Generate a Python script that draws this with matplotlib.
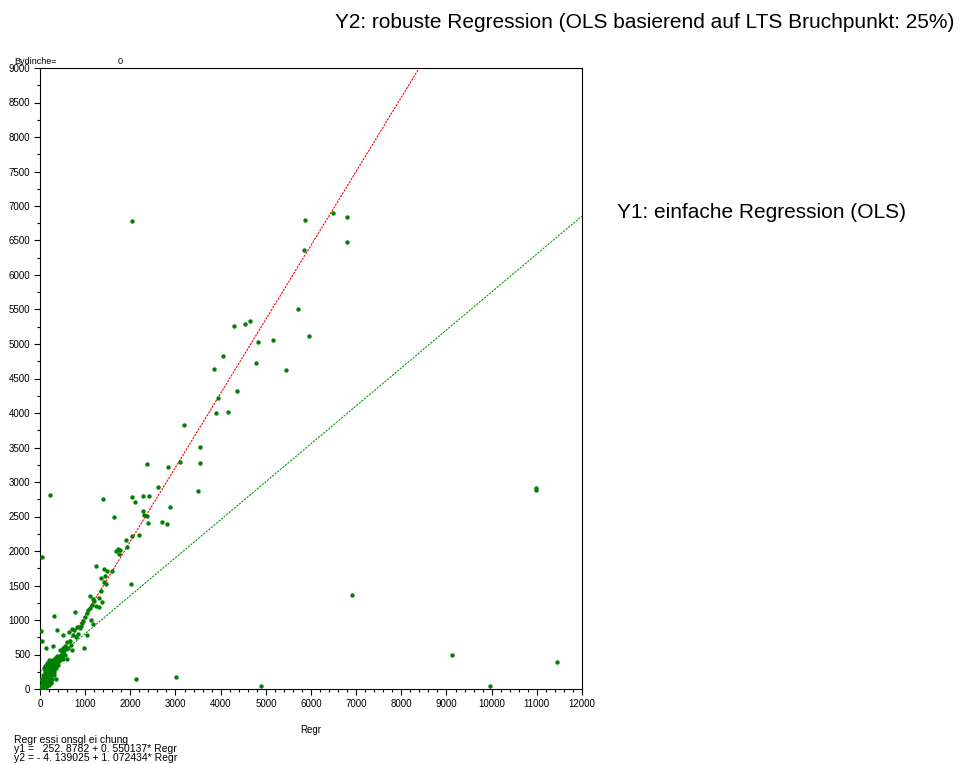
import matplotlib.pyplot as plt
from matplotlib.ticker import MultipleLocator

# ============================================================
# DATEN
# ============================================================

regr_x = [
    2037, 5867, 6487, 6797, 6797, 5845, 5712, 4295, 4538, 4649, 5955, 5158,
    4826, 4051, 3852, 4782, 5446, 4361, 3941, 3896, 4162, 3188, 3542, 2834,
    3099, 3542, 2612, 2369, 3498, 1395, 2037, 2103, 2280, 2413, 2878, 2280,
    2302, 2369, 2391, 2701, 2812, 1638, 1904, 1926, 2192, 2037, 1683, 1727,
    1771, 1749, 1417, 1483, 1594, 1439, 1350, 1240, 1417, 1461, 2015, 1350,
    1107, 1173, 1373, 1306, 1063,
    # Ausreisser
    221, 44, 2125, 3011, 4893, 6907, 9121, 10980, 10985, 11446, 9962,
    22, 44, 310, 133, 288, 376, 509, 775, 974, 1041, 354, 598,
    # 600 - 1300
    650, 700, 760, 820, 880, 930, 960, 720, 800, 1000, 1050, 1130, 1173,
    841, 620, 680, 700, 660, 560, 600, 900, 1200, 1150, 1250, 1300, 1100,
    # Hauptcluster
    20, 40, 60, 80, 100, 120, 50, 70, 90, 110, 130, 150, 170, 190, 210, 230,
    250, 100, 140, 180, 200, 220, 260, 280, 300, 320, 340, 360, 380, 400,
    420, 440, 460, 480, 500, 520, 540, 300, 250, 350, 400, 150, 200, 130,
    160, 60, 80, 240, 160, 120, 180, 200, 280, 320, 90, 110, 30, 200, 250,
    150, 300, 360, 430, 470, 550, 580, 100, 40, 60, 270, 240, 0, 10, 130,
    170, 210, 230, 380, 330, 260, 190, 450, 500, 520,
]

y_werte = [
    6778, 6792, 6894, 6836, 6473, 6357, 5501, 5268, 5283, 5327, 5109, 5065,
    5036, 4819, 4644, 4731, 4630, 4325, 4223, 4006, 4020, 3832, 3512, 3222,
    3295, 3280, 2932, 3266, 2874, 2758, 2787, 2714, 2801, 2801, 2641, 2583,
    2525, 2511, 2409, 2424, 2395, 2496, 2163, 2061, 2235, 2221, 2003, 2032,
    2017, 1959, 1742, 1713, 1713, 1640, 1611, 1785, 1553, 1524, 1524, 1422,
    1350, 1306, 1263, 1190, 1147,
    # Ausreisser
    2815, 1916, 145, 174, 44, 1364, 493, 2915, 2890, 392, 44,
    842, 697, 1060, 595, 624, 856, 784, 1118, 595, 784, 145, 435,
    # 600 - 1300
    830, 870, 850, 900, 880, 960, 990, 780, 760, 1050, 1100, 1000, 943,
    798, 600, 640, 560, 700, 620, 680, 920, 1280, 1220, 1200, 1320, 1180,
    # Hauptcluster
    10, 30, 20, 60, 40, 90, 100, 150, 120, 180, 140, 200, 160, 230, 210, 250,
    280, 250, 300, 350, 300, 330, 320, 370, 340, 400, 380, 420, 390, 450,
    430, 480, 500, 470, 540, 520, 560, 250, 200, 300, 350, 100, 120, 60,
    250, 200, 180, 380, 380, 330, 290, 380, 260, 280, 300, 270, 150, 60, 100,
    50, 200, 330, 400, 430, 500, 580, 0, 5, 80, 150, 90, 0, 50, 220,
    120, 170, 140, 480, 450, 420, 420, 560, 600, 440,
]

# Regressionsgleichungen (y1 = OLS, y2 = robust)
y1_achse, y1_steigung = 252.8782, 0.550137
y2_achse, y2_steigung = -4.139025, 1.072434
linie_x = [0, 12000]

# ============================================================
# GRAFIK
# ============================================================

plt.rcParams["font.family"] = ["Liberation Sans", "DejaVu Sans"]

fig = plt.figure(figsize=(9.78, 7.64), dpi=100)
ax = fig.add_axes([40 / 978, 75 / 764, 542 / 978, 621 / 764])

ax.scatter(regr_x, y_werte, s=10, color="#008000", zorder=3, linewidths=0)

ax.plot(linie_x, [y1_achse + y1_steigung * x for x in linie_x],
        color="#119911", lw=0.8, ls=(0, (2, 1)), zorder=2)
ax.plot(linie_x, [y2_achse + y2_steigung * x for x in linie_x],
        color="#ff0000", lw=0.8, ls=(0, (2, 1)), zorder=2)

ax.set_xlim(0, 12000)
ax.set_ylim(0, 9000)
ax.xaxis.set_major_locator(MultipleLocator(1000))
ax.xaxis.set_minor_locator(MultipleLocator(200))
ax.yaxis.set_major_locator(MultipleLocator(500))
ax.yaxis.set_minor_locator(MultipleLocator(250))
ax.tick_params(which="major", direction="out", length=4, width=0.8,
               labelsize=7, pad=3)
ax.tick_params(which="minor", direction="out", length=2.5, width=0.8)
ax.margins(0)
for s in ax.spines.values():
    s.set_linewidth(0.8)

ax.set_xlabel("Regr", fontsize=7, labelpad=12)

fig.text(14 / 978, 1 - 61 / 764, "Bydinche=", fontsize=6.5, va="center")
fig.text(120 / 978, 1 - 61 / 764, "0", fontsize=6.5, va="center", ha="center")

fig.text(14 / 978, 1 - 749 / 764,
         "Regr essi onsgl ei chung\n"
         "y1 =   252. 8782 + 0. 550137* Regr\n"
         "y2 = - 4. 139025 + 1. 072434* Regr",
         fontsize=7.5, va="center", linespacing=0.9)

fig.text(645 / 978, 1 - 22 / 764,
         "Y2: robuste Regression (OLS basierend auf LTS Bruchpunkt: 25%)",
         fontsize=15, ha="center", va="center")
fig.text(617 / 978, 1 - 212 / 764, "Y1: einfache Regression (OLS)",
         fontsize=15, ha="left", va="center")

fig.savefig("out.png", dpi=100)
